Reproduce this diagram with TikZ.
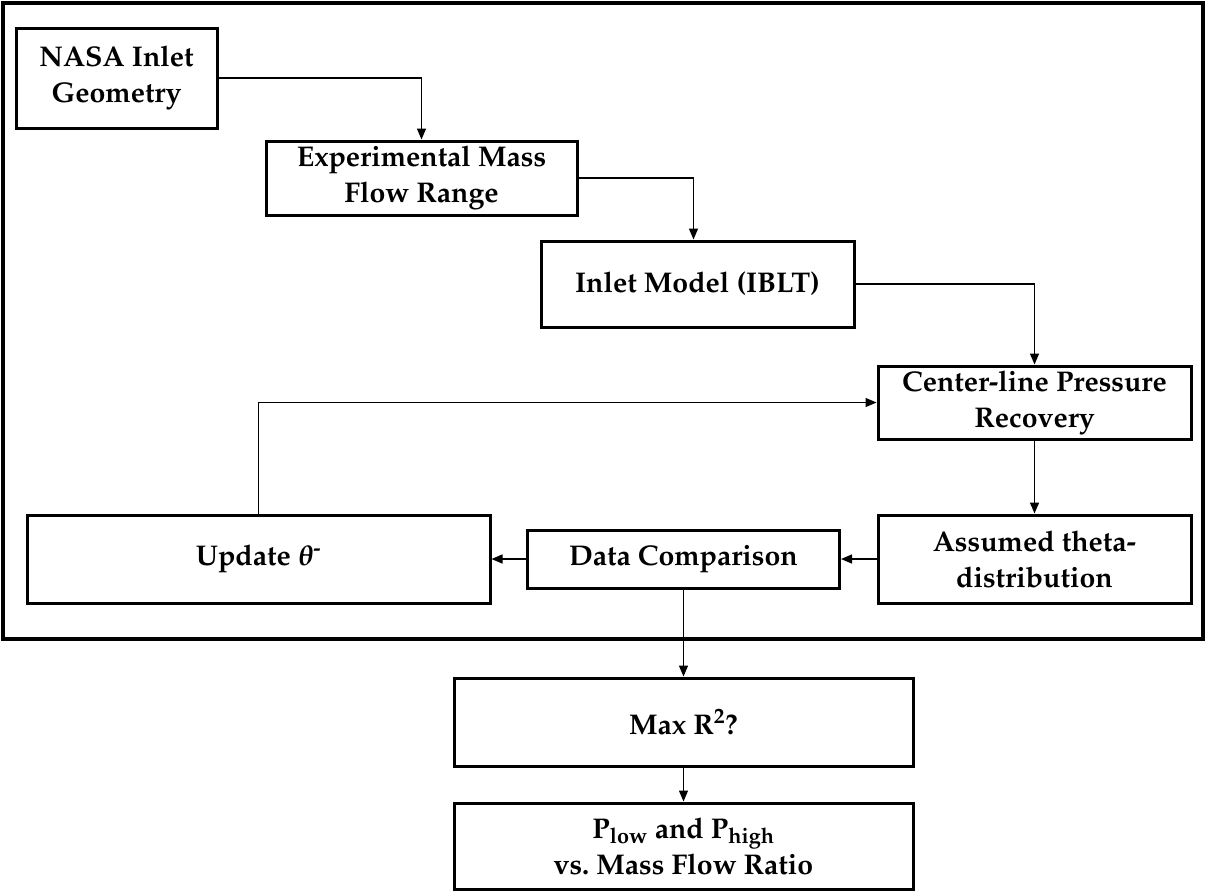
\documentclass[tikz,border=0pt]{standalone}
\usepackage[T1]{fontenc}
\usepackage{mathpazo}
\usepackage{tikz}
\usetikzlibrary{positioning,arrows.meta}
\tikzstyle{blk}=[draw,line width=3pt,align=center,inner sep=2pt,font=\fontsize{28.5}{36}\selectfont\bfseries]
\tikzstyle{conn}=[line width=1.4pt,-{Triangle[length=11pt,width=9pt]}]

\begin{document}
\begin{tikzpicture}[x=1pt,y=-1pt]
    \useasboundingbox (0,0) rectangle (1206,894);
    \draw [line width=4pt] (3,3) rectangle (1203,639);
    \node [blk,minimum width=201pt,minimum height=100pt] (geom) at (116.5,78) {NASA Inlet\\Geometry};
    \node [blk,minimum width=311pt,minimum height=74pt] (mfr) at (421.5,178) {Experimental Mass\\Flow Range};
    \node [blk,minimum width=313pt,minimum height=86pt] (model) at (697.5,284) {Inlet Model (IBLT)};
    \node [blk,minimum width=313pt,minimum height=73pt] (clpr) at (1034.5,402.5) {Center-line Pressure\\Recovery};
    \node [blk,minimum width=313pt,minimum height=88pt] (theta) at (1034.5,559) {Assumed theta-\\distribution};
    \node [blk,minimum width=312pt,minimum height=58pt] (comp) at (683.5,559) {Data Comparison};
    \node [blk,minimum width=463pt,minimum height=88pt] (upd) at (258.5,559) {Update {\boldmath$\theta$}\textsuperscript{-}};
    \node [blk,minimum width=459pt,minimum height=88pt] (maxr) at (683.5,722) {Max R\textsuperscript{2}?};
    \node [blk,minimum width=459pt,minimum height=86pt] (plow) at (683.5,846) {P\textsubscript{low} and P\textsubscript{high}\\vs.\ Mass Flow Ratio};
    \draw [conn] (geom.east) -| (mfr.north);
    \draw [conn] (mfr.east) -| ([xshift=-4pt]model.north);
    \draw [conn] (model.east) -| (clpr.north);
    \draw [conn] (clpr.south) -- (theta.north);
    \draw [conn] (theta.west) -- (comp.east);
    \draw [conn] (comp.west) -- (upd.east);
    \draw [conn] (upd.north) |- (clpr.west);
    \draw [conn] (comp.south) -- (maxr.north);
    \draw [conn] (maxr.south) -- (plow.north);
  \end{tikzpicture}
\end{document}
